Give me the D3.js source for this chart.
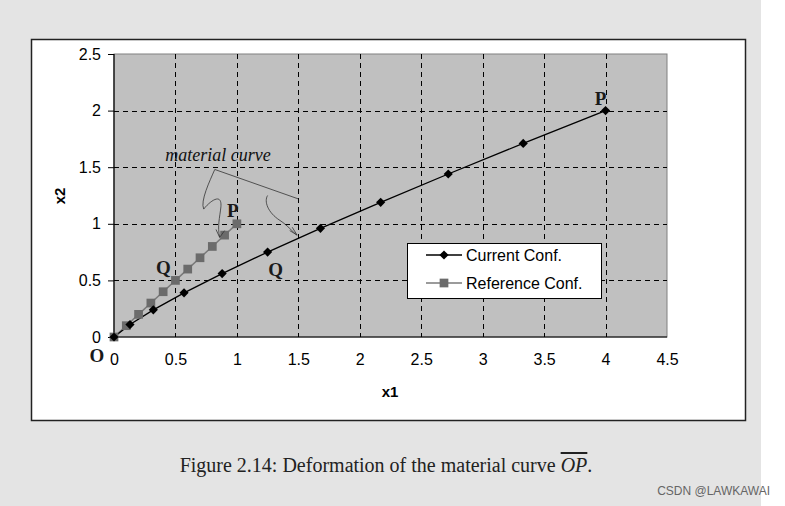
<!DOCTYPE html>
<html><head><meta charset="utf-8">
<script src="https://cdn.jsdelivr.net/npm/d3@7"></script>
<style>html,body{margin:0;padding:0;background:#fff;}svg{display:block;}</style>
</head><body>
<svg id="chart" width="785" height="506"></svg>
<script>
// ---- data ----
const xTicks = [0, 0.5, 1, 1.5, 2, 2.5, 3, 3.5, 4, 4.5];
const yTicks = [0, 0.5, 1, 1.5, 2, 2.5];
const currentX = [0, 0.13, 0.32, 0.57, 0.88, 1.25, 1.68, 2.17, 2.72, 3.33, 4.0];
const currentY = [0, 0.11, 0.24, 0.39, 0.56, 0.75, 0.96, 1.19, 1.44, 1.71, 2.0];
const referenceX = [0, 0.1, 0.2, 0.3, 0.4, 0.5, 0.6, 0.7, 0.8, 0.9, 1.0];
const referenceY = [0, 0.1, 0.2, 0.3, 0.4, 0.5, 0.6, 0.7, 0.8, 0.9, 1.0];
const seriesNames = ["Current Conf.", "Reference Conf."];
const pointLabels = [
  {t: "P", x: 4.0, y: 2.0, dx: -5, dy: -6},
  {t: "P", x: 1.0, y: 1.0, dx: -4, dy: -7},
  {t: "Q", x: 0.5, y: 0.5, dx: -12, dy: -6},
  {t: "Q", x: 1.25, y: 0.75, dx: 8, dy: 24},
  {t: "O", x: 0, y: 0, dx: -17, dy: 25}
];

const svg = d3.select("#chart");
// page backgrounds
svg.append("rect").attr("x",0).attr("y",0).attr("width",761).attr("height",506).attr("fill","#e4e4e4");
svg.append("rect").attr("x",31.5).attr("y",39.5).attr("width",714).attr("height",381)
  .attr("fill","#fff").attr("stroke","#222").attr("stroke-width",1.5);

const x = d3.scaleLinear().domain([0,4.5]).range([114,667]);
const y = d3.scaleLinear().domain([0,2.5]).range([337,54]);

// plot area
svg.append("rect").attr("x",x(0)).attr("y",y(2.5)).attr("width",x(4.5)-x(0)).attr("height",y(0)-y(2.5))
  .attr("fill","#c0c0c0").attr("stroke","#808080").attr("stroke-width",1);

// gridlines
const grid = svg.append("g").attr("stroke","#000").attr("stroke-width",1).attr("stroke-dasharray","5,4");
grid.selectAll(".gx").data(xTicks.filter(d=>d>0 && d<4.5)).join("line")
  .attr("x1",d=>Math.round(x(d))+0.5).attr("x2",d=>Math.round(x(d))+0.5).attr("y1",y(2.5)).attr("y2",y(0));
grid.selectAll(".gy").data(yTicks.filter(d=>d>0 && d<2.5)).join("line")
  .attr("y1",d=>Math.round(y(d))+0.5).attr("y2",d=>Math.round(y(d))+0.5).attr("x1",x(0)).attr("x2",x(4.5));

// axes
const fmt = d=>String(d);
const yAxis = svg.append("g").attr("transform",`translate(${x(0)},0)`)
  .call(d3.axisLeft(y).tickValues(yTicks).tickSize(6).tickPadding(7).tickFormat(fmt));
const xAxis = svg.append("g").attr("transform",`translate(0,${y(0)})`)
  .call(d3.axisBottom(x).tickValues(xTicks).tickSize(0).tickPadding(17).tickFormat(fmt));
[xAxis,yAxis].forEach(a=>{
  a.selectAll("text").attr("font-family","Liberation Sans, Arial, sans-serif").attr("font-size",16).attr("fill","#000");
  a.selectAll("line").attr("stroke","#000");
  a.select(".domain").attr("stroke","#000").attr("stroke-width",1.2);
});
xAxis.select(".domain").attr("d",`M${x(0)},0H${x(4.5)}`);
yAxis.select(".domain").attr("d",`M0,${y(0)}V${y(2.5)}`);

// axis titles
svg.append("text").attr("x",390).attr("y",397).attr("text-anchor","middle")
  .attr("font-family","Liberation Sans, Arial, sans-serif").attr("font-size",15).attr("font-weight","bold").text("x1");
svg.append("text").attr("transform","translate(65,196) rotate(-90)").attr("text-anchor","middle")
  .attr("font-family","Liberation Sans, Arial, sans-serif").attr("font-size",15).attr("font-weight","bold").text("x2");

// series
const cur = currentX.map((v,i)=>[v,currentY[i]]);
const ref = referenceX.map((v,i)=>[v,referenceY[i]]);
const line = d3.line().x(d=>x(d[0])).y(d=>y(d[1]));
svg.append("path").attr("d",line(ref)).attr("fill","none").attr("stroke","#7a7a7a").attr("stroke-width",1.5);
svg.append("path").attr("d",line(cur)).attr("fill","none").attr("stroke","#000").attr("stroke-width",1.3);
const sq = d3.symbol().type(d3.symbolSquare).size(76);
const di = d3.symbol().type(d3.symbolSquare).size(42);
svg.selectAll(".rm").data(ref).join("path").attr("d",sq).attr("transform",d=>`translate(${x(d[0])},${y(d[1])})`).attr("fill","#6b6b6b");
svg.selectAll(".cm").data(cur).join("path").attr("d",di).attr("transform",d=>`translate(${x(d[0])},${y(d[1])}) rotate(45)`).attr("fill","#000");

// point labels
svg.selectAll(".pl").data(pointLabels).join("text")
  .attr("x",d=>x(d.x)+d.dx).attr("y",d=>y(d.y)+d.dy).attr("text-anchor","middle")
  .attr("font-family","Liberation Serif, Times New Roman, serif").attr("font-weight","bold").attr("font-size",19)
  .attr("fill","#1a1a1a").text(d=>d.t);

// "material curve" annotation
svg.append("text").attr("x",218).attr("y",161).attr("text-anchor","middle")
  .attr("font-family","Liberation Serif, Times New Roman, serif").attr("font-style","italic").attr("font-size",18)
  .attr("fill","#111").text("material curve");
const ann = svg.append("g").attr("fill","none").attr("stroke","#333").attr("stroke-width",0.8);
ann.append("path").attr("d",`M${x(0.82)},${y(1.48)} L${x(1.5)},${y(1.22)}`);
ann.append("path").attr("d",`M${x(0.82)},${y(1.48)} C${x(0.78)},${y(1.38)} ${x(0.7)},${y(1.2)} ${x(0.73)},${y(1.13)} C${x(0.78)},${y(1.2)} ${x(0.88)},${y(1.28)} ${x(0.87)},${y(1.15)} C${x(0.86)},${y(1.05)} ${x(0.84)},${y(0.98)} ${x(0.86)},${y(0.88)}`);
ann.append("path").attr("d",`M${x(1.25)},${y(1.25)} C${x(1.22)},${y(1.2)} ${x(1.25)},${y(1.1)} ${x(1.35)},${y(1.03)} C${x(1.42)},${y(0.98)} ${x(1.45)},${y(0.93)} ${x(1.49)},${y(0.9)}`);
// arrowheads
ann.append("path").attr("d",`M${x(0.83)},${y(0.95)} L${x(0.86)},${y(0.88)} L${x(0.9)},${y(0.94)}`);
ann.append("path").attr("d",`M${x(1.43)},${y(0.94)} L${x(1.49)},${y(0.9)} L${x(1.45)},${y(0.97)}`);

// legend
const lg = svg.append("g");
lg.append("rect").attr("x",407.5).attr("y",243.5).attr("width",194).attr("height",55).attr("fill","#fff").attr("stroke","#000");
const rows = [{y:255, stroke:"#000", sw:1.3, mark:di, rot:45, fill:"#000"},{y:283, stroke:"#7a7a7a", sw:1.5, mark:sq, rot:0, fill:"#6b6b6b"}];
rows.forEach((r,i)=>{
  lg.append("line").attr("x1",426).attr("x2",462).attr("y1",r.y).attr("y2",r.y).attr("stroke",r.stroke).attr("stroke-width",r.sw);
  lg.append("path").attr("d",r.mark).attr("transform",`translate(444,${r.y}) rotate(${r.rot})`).attr("fill",r.fill);
  lg.append("text").attr("x",466).attr("y",r.y+6).attr("font-family","Liberation Sans, Arial, sans-serif").attr("font-size",16)
    .attr("fill","#000").text(seriesNames[i]);
});

// caption
const cap = svg.append("text").attr("x",386).attr("y",472).attr("text-anchor","middle")
  .attr("font-family","Liberation Serif, Times New Roman, serif").attr("font-size",20).attr("fill","#222");
cap.append("tspan").text("Figure 2.14: Deformation of the material curve ");
cap.append("tspan").attr("font-style","italic").attr("text-decoration","overline").text("OP");
cap.append("tspan").text(".");

// watermark
svg.append("text").attr("x",770).attr("y",495).attr("text-anchor","end")
  .attr("font-family","Liberation Sans, Arial, sans-serif").attr("font-size",12).attr("fill","#666").text("CSDN @LAWKAWAI");
</script>
</body></html>
